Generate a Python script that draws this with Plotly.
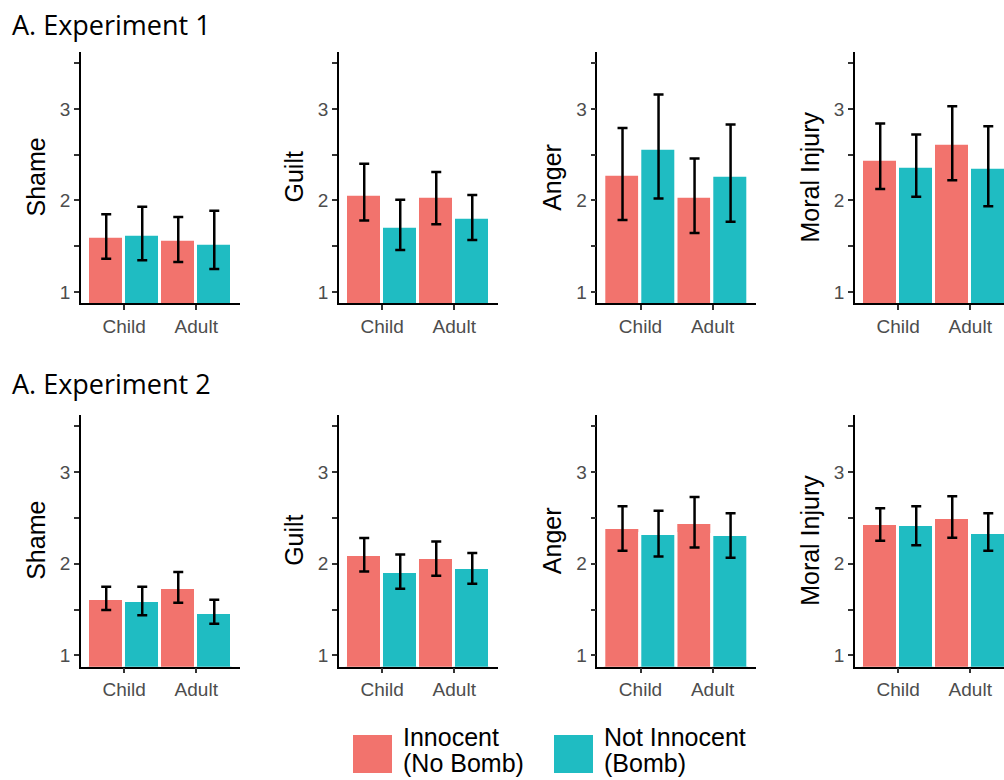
import plotly.graph_objects as go

W, H = 1004, 780

conditions = ["Child", "Adult"]
measures = ["Shame", "Guilt", "Anger", "Moral Injury"]
series_names = ["Innocent (No Bomb)", "Not Innocent (Bomb)"]
series_colors = ["#F2736D", "#1FBCC2"]
y_tickvals = [1, 1.5, 2, 2.5, 3, 3.5]
y_ticktext = ["1", "", "2", "", "3", ""]

# Experiment 1: per measure, [Child, Adult]
e1_inno_mean = [[1.60, 1.567], [2.058, 2.036], [2.276, 2.036], [2.44, 2.62]]
e1_inno_lo = [[1.363, 1.327], [1.78, 1.738], [1.785, 1.643], [2.123, 2.221]]
e1_inno_hi = [[1.847, 1.818], [2.40, 2.309], [2.79, 2.458], [2.84, 3.03]]
e1_not_mean = [[1.62, 1.523], [1.709, 1.807], [2.56, 2.265], [2.363, 2.352]]
e1_not_lo = [[1.345, 1.25], [1.458, 1.567], [2.02, 1.767], [2.04, 1.935]]
e1_not_hi = [[1.93, 1.887], [2.007, 2.058], [3.156, 2.829], [2.72, 2.81]]

# Experiment 2
e2_inno_mean = [[1.61, 1.73], [2.10, 2.058], [2.385, 2.44], [2.429, 2.505]]
e2_inno_lo = [[1.494, 1.575], [1.916, 1.869], [2.142, 2.178], [2.251, 2.284]]
e2_inno_hi = [[1.749, 1.909], [2.28, 2.243], [2.628, 2.73], [2.607, 2.737]]
e2_not_mean = [[1.589, 1.458], [1.905, 1.949], [2.32, 2.309], [2.418, 2.341]]
e2_not_lo = [[1.436, 1.345], [1.727, 1.782], [2.08, 2.065], [2.203, 2.142]]
e2_not_hi = [[1.749, 1.607], [2.10, 2.116], [2.578, 2.552], [2.628, 2.552]]

experiments = [
    ("A. Experiment 1", [(e1_inno_mean, e1_inno_lo, e1_inno_hi), (e1_not_mean, e1_not_lo, e1_not_hi)]),
    ("A. Experiment 2", [(e2_inno_mean, e2_inno_lo, e2_inno_hi), (e2_not_mean, e2_not_lo, e2_not_hi)]),
]

# layout in pixels
panel_left_px = [81, 339, 597.3, 855]
panel_width_px = 158.5
row_top_px = [51.7, 415]
row_bottom_px = [303.3, 666.7]
title_y_px = [25, 383]

TICK_FONT = dict(family="Liberation Sans, Arial, sans-serif", size=19, color="#4D4D4D")
TITLE_FONT = dict(family="Liberation Sans, Arial, sans-serif", size=25, color="black")

fig = go.Figure()
layout = {}
annotations = []
shapes = []

k = 0
for r, (exp_title, series) in enumerate(experiments):
    ydom = [1 - row_bottom_px[r] / H, 1 - row_top_px[r] / H]
    for c, meas in enumerate(measures):
        k += 1
        xa = "x" if k == 1 else f"x{k}"
        ya = "y" if k == 1 else f"y{k}"
        left = panel_left_px[c]
        right = min(left + panel_width_px, W)
        xdom = [left / W, right / W]
        xmax = -0.6 + (right - left) / (panel_width_px / 2.2)
        for s, (mean, lo, hi) in enumerate(series):
            m = mean[c]
            fig.add_trace(go.Bar(
                x=conditions, y=m, xaxis=xa, yaxis=ya,
                name=series_names[s], offsetgroup=str(s), showlegend=False,
                marker=dict(color=series_colors[s], line=dict(color="white", width=3)),
                error_y=dict(type="data", symmetric=False,
                             array=[h - v for h, v in zip(hi[c], m)],
                             arrayminus=[v - l for l, v in zip(lo[c], m)],
                             color="black", thickness=2.5, width=5),
            ))
        layout["xaxis" if k == 1 else f"xaxis{k}"] = dict(
            domain=xdom, anchor=ya, type="category", range=[-0.6, xmax],
            showline=True, linecolor="black", linewidth=1.5,
            ticks="outside", ticklen=5, tickwidth=1.5, tickcolor="#333333",
            tickfont=TICK_FONT, showgrid=False, zeroline=False, fixedrange=True,
        )
        layout["yaxis" if k == 1 else f"yaxis{k}"] = dict(
            domain=ydom, anchor=xa, range=[0.875, 3.625],
            tickvals=y_tickvals, ticktext=y_ticktext,
            showline=True, linecolor="black", linewidth=1.5,
            ticks="outside", ticklen=5, tickwidth=1.5, tickcolor="#333333",
            tickfont=TICK_FONT, showgrid=False, zeroline=False, fixedrange=True,
        )
        annotations.append(dict(
            text=meas, textangle=-90, xref="paper", yref="paper",
            x=(left - 45) / W, y=1 - (row_top_px[r] + row_bottom_px[r]) / 2 / H,
            xanchor="center", yanchor="middle", showarrow=False, font=TITLE_FONT,
        ))
    annotations.append(dict(
        text=exp_title, xref="paper", yref="paper", x=10 / W, y=1 - title_y_px[r] / H,
        xanchor="left", yanchor="middle", showarrow=False,
        font=dict(family="Open Sans, sans-serif", size=27, color="black"),
    ))

# legend (manual keys)
legend_key_left_px = [353, 554]
legend_line1 = ["Innocent", "Not Innocent"]
legend_line2 = ["(No Bomb)", "(Bomb)"]
LEG_FONT = dict(family="Liberation Sans, Arial, sans-serif", size=25, color="black")
for i in range(2):
    x0 = legend_key_left_px[i]
    shapes.append(dict(type="rect", xref="paper", yref="paper",
                       x0=x0 / W, x1=(x0 + 39) / W, y0=1 - 773 / H, y1=1 - 735 / H,
                       fillcolor=series_colors[i], line=dict(width=0)))
    for txt, ytop in ((legend_line1[i], 721), (legend_line2[i], 747)):
        annotations.append(dict(
            text=txt, xref="paper", yref="paper", x=(x0 + 48) / W, y=1 - ytop / H,
            xanchor="left", yanchor="top", align="left", showarrow=False, font=LEG_FONT,
        ))

fig.update_layout(
    **layout,
    width=W, height=H, margin=dict(l=0, r=0, t=0, b=0),
    paper_bgcolor="white", plot_bgcolor="white",
    barmode="group", bargap=0, bargroupgap=0,
    annotations=annotations, shapes=shapes, showlegend=False,
)
fig.write_html(
    "out.html",
    config={"displayModeBar": False},
    post_script="document.body.style.margin='0';document.body.style.padding='0';document.body.style.overflow='hidden';",
)
